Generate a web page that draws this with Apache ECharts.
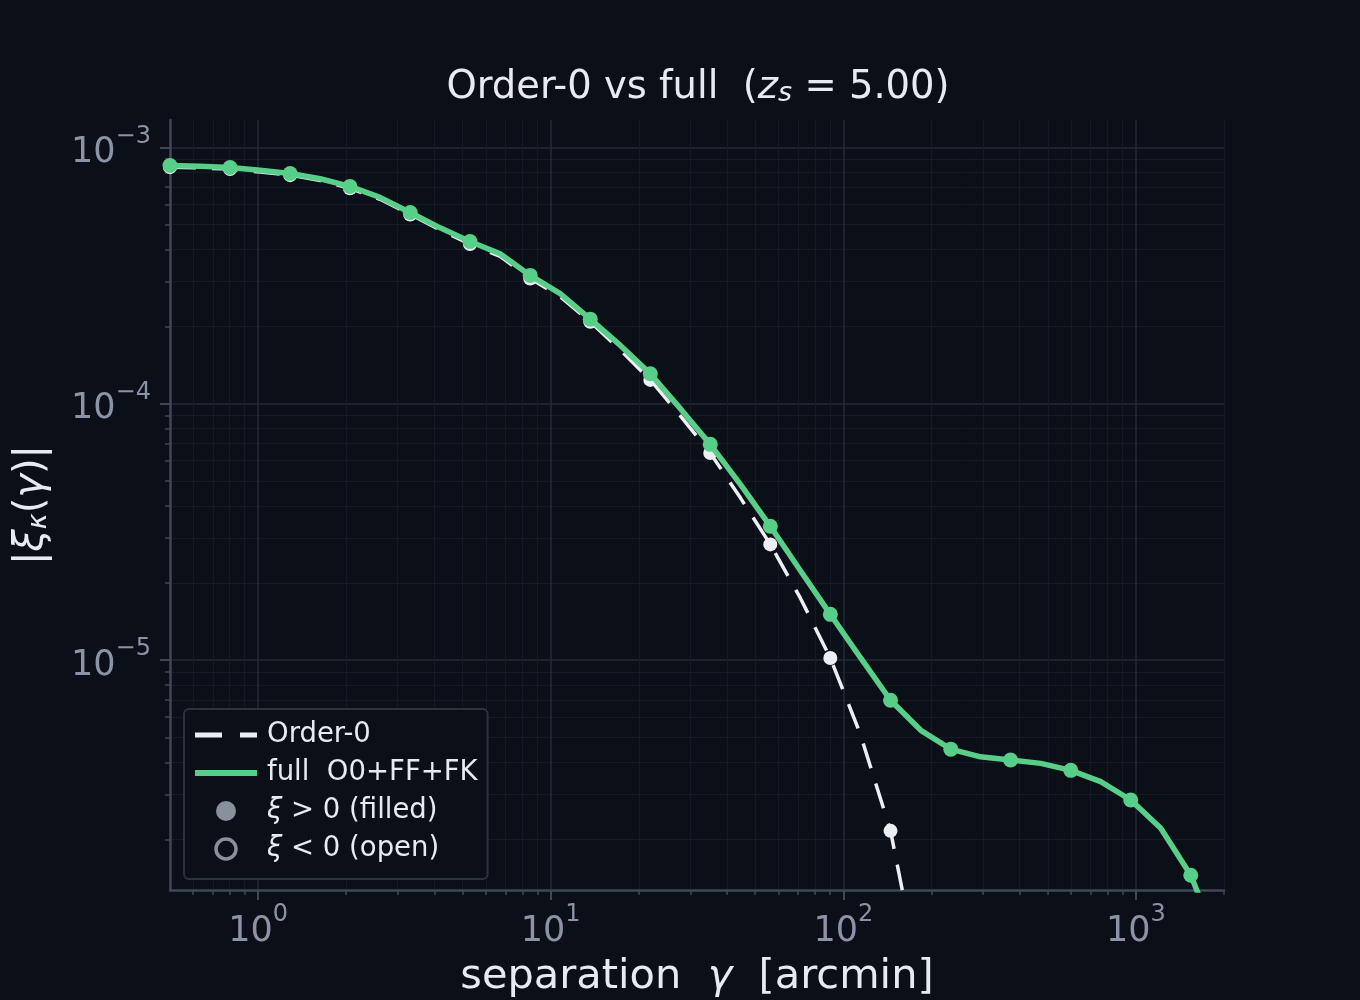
<!DOCTYPE html>
<html>
<head>
<meta charset="utf-8">
<title>Order-0 vs full</title>
<script src="https://cdn.jsdelivr.net/npm/echarts@6/dist/echarts.min.js"></script>
<style>
html,body{margin:0;padding:0;background:#0b0f17;}
#chart{width:1360px;height:1000px;}
</style>
</head>
<body>
<div id="chart"></div>
<script>

// separation gamma [arcmin]
const sep = [0.5, 0.634, 0.802, 1.016, 1.287, 1.63, 2.06, 2.61, 3.31, 4.19,
  5.30, 6.72, 8.51, 10.78, 13.65, 17.3, 21.9, 27.7, 35.1, 44.5,
  56.3, 71.3, 90.3, 114, 145, 184, 233, 294, 373, 473,
  599, 758, 960, 1216, 1540, 1950]

// |xi_kappa| full O0+FF+FK
const full = [8.51e-4, 8.45e-4, 8.36e-4, 8.15e-4, 7.92e-4, 7.55e-4, 7.05e-4, 6.39e-4, 5.58e-4, 4.86e-4,
  4.30e-4, 3.85e-4, 3.17e-4, 2.69e-4, 2.14e-4, 1.69e-4, 1.31e-4, 9.6e-5, 6.95e-5, 4.85e-5,
  3.33e-5, 2.24e-5, 1.51e-5, 1.03e-5, 6.98e-6, 5.33e-6, 4.50e-6, 4.20e-6, 4.08e-6, 3.96e-6,
  3.72e-6, 3.36e-6, 2.85e-6, 2.21e-6, 1.45e-6, 7.4e-7]

// |xi_kappa| order-0
const order0 = [8.38e-4, 8.32e-4, 8.24e-4, 8.02e-4, 7.8e-4, 7.43e-4, 6.93e-4, 6.28e-4, 5.48e-4, 4.77e-4,
  4.2e-4, 3.76e-4, 3.08e-4, 2.62e-4, 2.09e-4, 1.62e-4, 1.24e-4, 9.0e-5, 6.43e-5, 4.3e-5,
  2.83e-5, 1.75e-5, 1.02e-5, 5.2e-6, 2.16e-6, 5.5e-7]

const xMajor = [1, 10, 100, 1000]
const xMinor = [0.6, 0.7, 0.8, 0.9, 2, 3, 4, 5, 6, 7, 8, 9, 20, 30, 40, 50, 60, 70, 80, 90,
  200, 300, 400, 500, 600, 700, 800, 900, 2000]
const yMajor = [1e-5, 1e-4, 1e-3]
const yMinor = [2e-6, 3e-6, 4e-6, 5e-6, 6e-6, 7e-6, 8e-6, 9e-6,
  2e-5, 3e-5, 4e-5, 5e-5, 6e-5, 7e-5, 8e-5, 9e-5,
  2e-4, 3e-4, 4e-4, 5e-4, 6e-4, 7e-4, 8e-4, 9e-4]

const BG = "#0b0f17"
const AXIS = "#3e4859"
const TICKTXT = "#8b94a6"
const TXT = "#e8eaf0"
const GREEN = "#58cf88"
const WHITE = "#eceef4"
const MARK = "#a8afbf"
const FONT = "DejaVu Sans"

function pow10(v){
  const e = Math.round(Math.log10(v))
  return "{b|10}{s|" + String(e).replace("-", "\u2212") + "}"
}

const tickRich = {
  b:{fontFamily:FONT, fontSize:35, color:TICKTXT, verticalAlign:"bottom", lineHeight:46},
  s:{fontFamily:FONT, fontSize:24, color:TICKTXT, verticalAlign:"top", lineHeight:46}
}

function pairs(ys){
  return ys.map((v,i)=>[sep[i], v])
}

const chart = echarts.init(document.getElementById("chart"), null, {renderer:"canvas"})

chart.setOption({
  backgroundColor:BG,
  animation:false,
  title:{
    text:"{t|Order-0 vs full  (}{i|z}{u|s}{t| = 5.00)}",
    left:693, textAlign:"center", top:56,
    textStyle:{
      fontWeight:"normal",
      rich:{
        t:{fontFamily:FONT, fontWeight:"normal", fontSize:38.5, color:TXT, verticalAlign:"bottom", lineHeight:46},
        i:{fontFamily:FONT, fontWeight:"normal", fontStyle:"italic", fontSize:38.5, color:TXT, verticalAlign:"bottom", lineHeight:46},
        u:{fontFamily:FONT, fontWeight:"normal", fontStyle:"italic", fontSize:27, color:TXT, verticalAlign:"bottom", lineHeight:38}
      }
    }
  },
  grid:{left:170, right:136, top:120, bottom:110, outerBoundsMode:"none", containLabel:false},
  legend:{
    orient:"vertical",
    left:184, top:709,
    padding:[10, 10, 14, 8],
    itemWidth:62, itemHeight:20, itemGap:6,
    backgroundColor:"rgba(11,15,23,0.9)",
    borderColor:"#2a3342", borderWidth:2, borderRadius:5,
    data:[
      {name:"Order-0", itemStyle:{opacity:0}, lineStyle:{color:WHITE, width:5, type:[27, 18]}},
      {name:"full", itemStyle:{opacity:0}, lineStyle:{color:GREEN, width:6}},
      {name:"pos", icon:"circle", itemStyle:{color:MARK, borderWidth:0}},
      {name:"neg", icon:"circle", itemStyle:{color:"rgba(0,0,0,0)", borderColor:MARK, borderWidth:3.5}}
    ],
    formatter:function(n){
      if(n === "Order-0") return "Order-0"
      if(n === "full") return "full  O0+FF+FK"
      if(n === "pos") return "{i|\u03be}{r| > 0 (filled)}"
      return "{i|\u03be}{r| < 0 (open)}"
    },
    textStyle:{
      fontFamily:FONT, fontSize:27.5, color:TXT, padding:[0,0,0,5], lineHeight:32,
      rich:{
        i:{fontFamily:FONT, fontStyle:"italic", fontSize:27.5, color:TXT, lineHeight:32},
        r:{fontFamily:FONT, fontSize:27.5, color:TXT, lineHeight:32}
      }
    }
  },
  xAxis:[{
    type:"log", logBase:10, min:0.5, max:2000,
    axisLine:{show:true, onZero:false, lineStyle:{color:AXIS, width:2.5}},
    axisTick:{show:true, customValues:xMajor, length:10, lineStyle:{color:AXIS, width:2}},
    axisLabel:{customValues:xMajor, margin:13, formatter:pow10, rich:tickRich},
    splitLine:{show:true, lineStyle:{color:"#232b38", width:1.5}},
    name:"{n|separation  }{i|\u03b3}{n|  [arcmin]}",
    nameLocation:"middle", nameGap:66,
    nameTextStyle:{rich:{
      n:{fontFamily:FONT, fontSize:41.5, color:TXT},
      i:{fontFamily:FONT, fontStyle:"italic", fontSize:41.5, color:TXT}
    }}
  },{
    type:"log", logBase:10, min:0.5, max:2000, position:"bottom", gridIndex:0,
    axisLine:{show:false},
    axisTick:{show:true, customValues:xMinor, length:5, lineStyle:{color:AXIS, width:1.5}},
    axisLabel:{show:false},
    splitLine:{show:true, lineStyle:{color:"#151b26", width:1}}
  }],
  yAxis:[{
    type:"log", logBase:10, min:1.27e-6, max:1.28e-3,
    axisLine:{show:true, onZero:false, lineStyle:{color:AXIS, width:2.5}},
    axisTick:{show:true, customValues:yMajor, length:10, lineStyle:{color:AXIS, width:2}},
    axisLabel:{customValues:yMajor, margin:19, formatter:pow10, rich:tickRich},
    splitLine:{show:true, lineStyle:{color:"#232b38", width:1.5}},
    name:"{p||}{i|\u03be}{k|\u03ba}{p|(}{i|\u03b3}{p|)|}",
    nameLocation:"middle", nameGap:118, nameRotate:90,
    nameTextStyle:{rich:{
      p:{fontFamily:FONT, fontSize:40, color:TXT, verticalAlign:"bottom", lineHeight:48},
      i:{fontFamily:FONT, fontStyle:"italic", fontSize:40, color:TXT, verticalAlign:"bottom", lineHeight:48},
      k:{fontFamily:FONT, fontStyle:"italic", fontSize:27, color:TXT, verticalAlign:"bottom", lineHeight:40}
    }}
  },{
    type:"log", logBase:10, min:1.27e-6, max:1.28e-3, position:"left", gridIndex:0,
    axisLine:{show:false},
    axisTick:{show:true, customValues:yMinor, length:5, lineStyle:{color:AXIS, width:1.5}},
    axisLabel:{show:false},
    splitLine:{show:true, lineStyle:{color:"#151b26", width:1}}
  }],
  series:[
    {
      name:"Order-0", type:"line", data:pairs(order0),
      xAxisIndex:0, yAxisIndex:0, z:3,
      showAllSymbol:true, symbol:"circle",
      symbolSize:function(v, p){ return p.dataIndex % 2 === 0 ? 14 : 0 },
      lineStyle:{color:WHITE, width:3.5, type:[26, 16]},
      itemStyle:{color:WHITE},
      clip:true
    },
    {
      name:"full", type:"line", data:pairs(full),
      xAxisIndex:0, yAxisIndex:0, z:4,
      showAllSymbol:true, symbol:"circle",
      symbolSize:function(v, p){ return p.dataIndex % 2 === 0 ? 15 : 0 },
      lineStyle:{color:GREEN, width:5.5},
      itemStyle:{color:GREEN},
      clip:true
    },
    {
      name:"pos", type:"scatter", data:[],
      itemStyle:{color:MARK}
    },
    {
      name:"neg", type:"scatter", data:[],
      itemStyle:{color:"rgba(0,0,0,0)", borderColor:MARK, borderWidth:3.5}
    }
  ]
})

</script>
</body>
</html>
